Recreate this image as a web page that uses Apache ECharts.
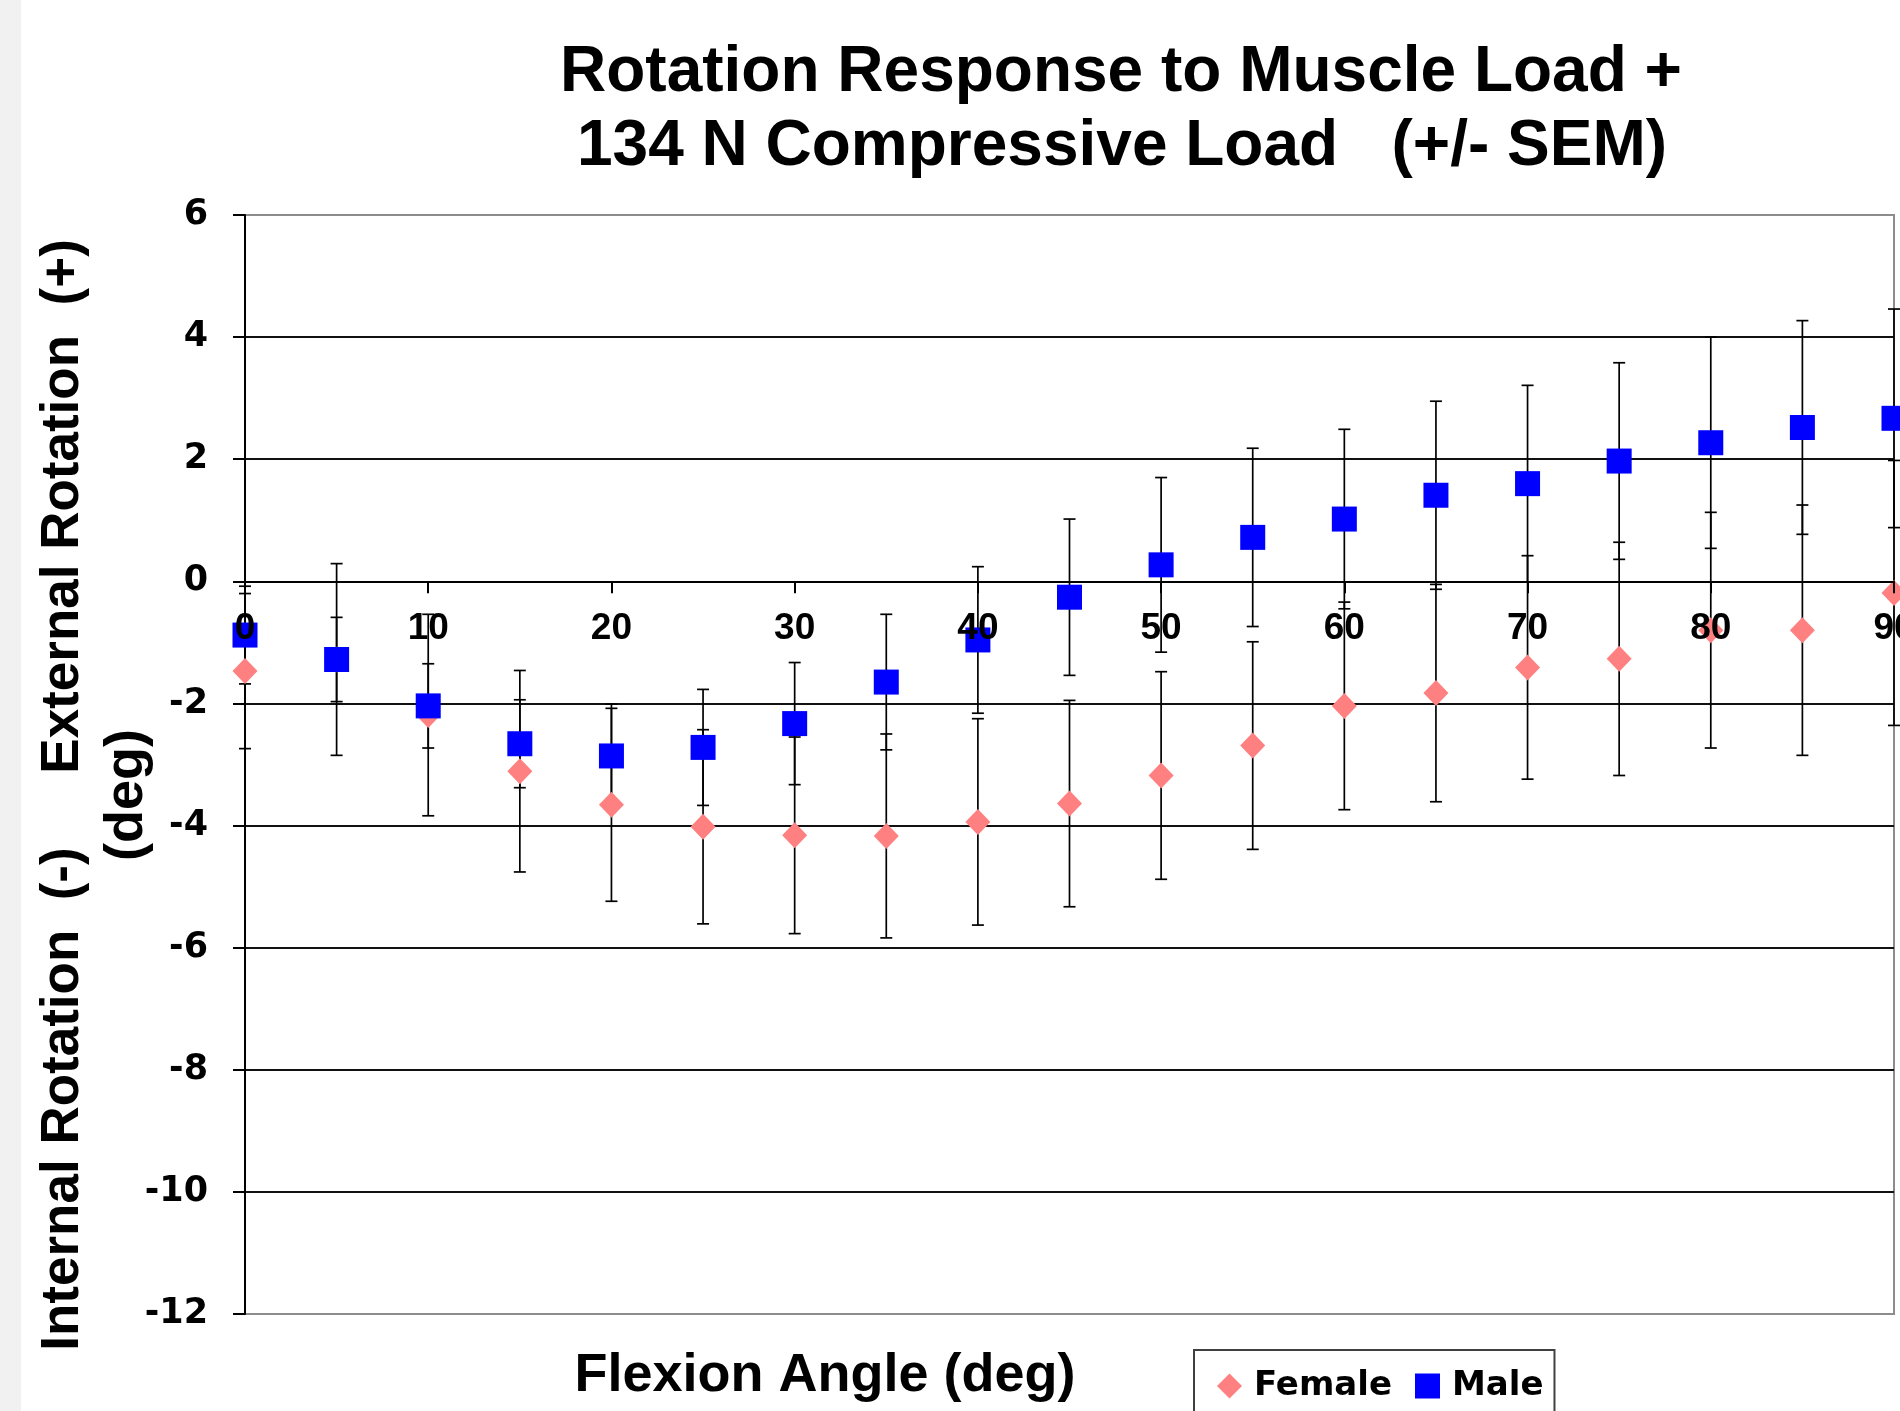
<!DOCTYPE html>
<html>
<head>
<meta charset="utf-8">
<script src="https://cdn.jsdelivr.net/npm/echarts@6/dist/echarts.min.js"></script>
<style>
html,body{margin:0;padding:0;background:#fff;}
#chart{width:1900px;height:1411px;}
</style>
</head>
<body>
<div id="chart"></div>
<script>
// ---- data ----
const angles = [0, 5, 10, 15, 20, 25, 30, 35, 40, 45, 50, 55, 60, 65, 70, 75, 80, 85, 90];
const femaleMean = [-1.47, -1.28, -2.19, -3.11, -3.66, -4.02, -4.16, -4.17, -3.94, -3.64, -3.18, -2.69, -2.04, -1.83, -1.41, -1.27, -0.80, -0.80, -0.19];
const femaleSEM  = [1.27, 1.57, 1.65, 1.65, 1.58, 1.59, 1.61, 1.67, 1.69, 1.69, 1.70, 1.70, 1.70, 1.78, 1.83, 1.91, 1.93, 2.05, 2.17];
const maleMean   = [-0.88, -1.28, -2.04, -2.66, -2.86, -2.72, -2.33, -1.65, -0.96, -0.26, 0.27, 0.72, 1.02, 1.41, 1.60, 1.97, 2.27, 2.52, 2.67];
const maleSEM    = [0.80, 0.69, 0.69, 0.72, 0.85, 0.95, 1.00, 1.11, 1.20, 1.28, 1.43, 1.46, 1.47, 1.54, 1.61, 1.61, 1.73, 1.75, 1.79];
const seriesNames = ['Female', 'Male'];
const titleLines = ['Rotation Response to Muscle Load +', '134 N Compressive Load   (+/- SEM)'];
const xTitle = 'Flexion Angle (deg)';
const yTitleLines = ['Internal Rotation  (-)     External Rotation  (+)', '(deg)'];
const yMin = -12, yMax = 6, yStep = 2;
const xMin = 0, xMax = 90, xStep = 10;

const femalePts = angles.map((a, i) => [a, femaleMean[i]]);
const malePts = angles.map((a, i) => [a, maleMean[i]]);
const femaleErr = angles.map((a, i) => [a, femaleMean[i] - femaleSEM[i], femaleMean[i] + femaleSEM[i]]);
const maleErr = angles.map((a, i) => [a, maleMean[i] - maleSEM[i], maleMean[i] + maleSEM[i]]);

function errRender(params, api) {
  const x = api.value(0);
  const lo = api.coord([x, api.value(1)]);
  const hi = api.coord([x, api.value(2)]);
  const cw = 6;
  const st = { stroke: '#000', lineWidth: 1.7 };
  return {
    type: 'group',
    children: [
      { type: 'line', shape: { x1: lo[0], y1: lo[1], x2: hi[0], y2: hi[1] }, style: st },
      { type: 'line', shape: { x1: lo[0] - cw, y1: lo[1], x2: lo[0] + cw, y2: lo[1] }, style: st },
      { type: 'line', shape: { x1: hi[0] - cw, y1: hi[1], x2: hi[0] + cw, y2: hi[1] }, style: st }
    ]
  };
}

const gridTop = 215, gridBottom = 97, canvasH = 1411;
const gridH = canvasH - gridTop - gridBottom;
// place the x axis where y = 0 sits (axis crosses at zero, as in the original)
const zeroOffset = -gridH * (0 - yMin) / (yMax - yMin);

const chart = echarts.init(document.getElementById('chart'), null, { renderer: 'canvas' });
const boldArial = '"Liberation Sans", Arial, sans-serif';
const boldVerd = '"DejaVu Sans", Verdana, sans-serif';

chart.setOption({
  backgroundColor: '#ffffff',
  animation: false,
  grid: {
    left: 245, top: gridTop, right: 6, bottom: gridBottom,
    outerBoundsMode: 'none', containLabel: false,
    show: true, borderColor: '#8c8c8c', borderWidth: 2, backgroundColor: 'transparent'
  },
  xAxis: {
    type: 'value', min: xMin, max: xMax, interval: xStep, z: 10,
    offset: zeroOffset,
    axisLine: { show: true, onZero: false, lineStyle: { color: '#000', width: 2 } },
    axisTick: { show: true, length: 12, lineStyle: { color: '#000', width: 2 } },
    axisLabel: { margin: 29, fontFamily: boldArial, fontWeight: 'bold', fontSize: 37, color: '#000', hideOverlap: false },
    splitLine: { show: false }
  },
  yAxis: {
    type: 'value', min: yMin, max: yMax, interval: yStep,
    axisLine: { show: true, lineStyle: { color: '#000', width: 2 } },
    axisTick: { show: true, length: 12, lineStyle: { color: '#000', width: 2 } },
    axisLabel: { margin: 37, fontFamily: boldVerd, fontWeight: 'bold', fontSize: 35, color: '#000' },
    splitLine: { show: true, showMinLine: false, showMaxLine: false, lineStyle: { color: '#111', width: 2 } }
  },
  legend: {
    left: 1194, top: 1350, orient: 'horizontal',
    itemWidth: 25, itemHeight: 25, itemGap: 23,
    padding: [19, 11, 40, 23],
    borderColor: '#404040', borderWidth: 2, backgroundColor: '#ffffff',
    textStyle: { fontFamily: boldVerd, fontWeight: 'bold', fontSize: 34, color: '#000', padding: [0, 0, 0, 7] },
    data: [{ name: seriesNames[0], icon: 'diamond' }, { name: seriesNames[1], icon: 'rect' }]
  },
  graphic: [
    { type: 'rect', silent: true, z: -10, shape: { x: 0, y: 0, width: 21, height: 1411 }, style: { fill: '#f1f1f1' } },
    { type: 'text', x: 1121, y: 73, style: { text: titleLines[0], font: 'bold 64px ' + boldArial, fill: '#000', align: 'center', verticalAlign: 'middle', textAlign: 'center', textVerticalAlign: 'middle' } },
    { type: 'text', x: 1122, y: 147, style: { text: titleLines[1], font: 'bold 64px ' + boldArial, fill: '#000', align: 'center', verticalAlign: 'middle', textAlign: 'center', textVerticalAlign: 'middle' } },
    { type: 'text', x: 825, y: 1376, style: { text: xTitle, font: 'bold 54px ' + boldArial, fill: '#000', align: 'center', verticalAlign: 'middle', textAlign: 'center', textVerticalAlign: 'middle' } },
    { type: 'text', x: 63, y: 795, rotation: Math.PI / 2, style: { text: yTitleLines[0], font: 'bold 53px ' + boldArial, fill: '#000', align: 'center', verticalAlign: 'middle', textAlign: 'center', textVerticalAlign: 'middle' } },
    { type: 'text', x: 127, y: 795, rotation: Math.PI / 2, style: { text: yTitleLines[1], font: 'bold 54px ' + boldArial, fill: '#000', align: 'center', verticalAlign: 'middle', textAlign: 'center', textVerticalAlign: 'middle' } }
  ],
  series: [
    { name: 'Female SEM', type: 'custom', renderItem: errRender, data: femaleErr, z: 1, clip: false, encode: { x: 0, y: [1, 2] } },
    { name: 'Male SEM', type: 'custom', renderItem: errRender, data: maleErr, z: 1, clip: false, encode: { x: 0, y: [1, 2] } },
    { name: seriesNames[0], type: 'scatter', symbol: 'diamond', symbolSize: [25, 26], data: femalePts, z: 3,
      itemStyle: { color: '#ff8080', opacity: 1 }, clip: false },
    { name: seriesNames[1], type: 'scatter', symbol: 'rect', symbolSize: 25, data: malePts, z: 4,
      itemStyle: { color: '#0000ff', opacity: 1 }, clip: false }
  ]
});
</script>
</body>
</html>
